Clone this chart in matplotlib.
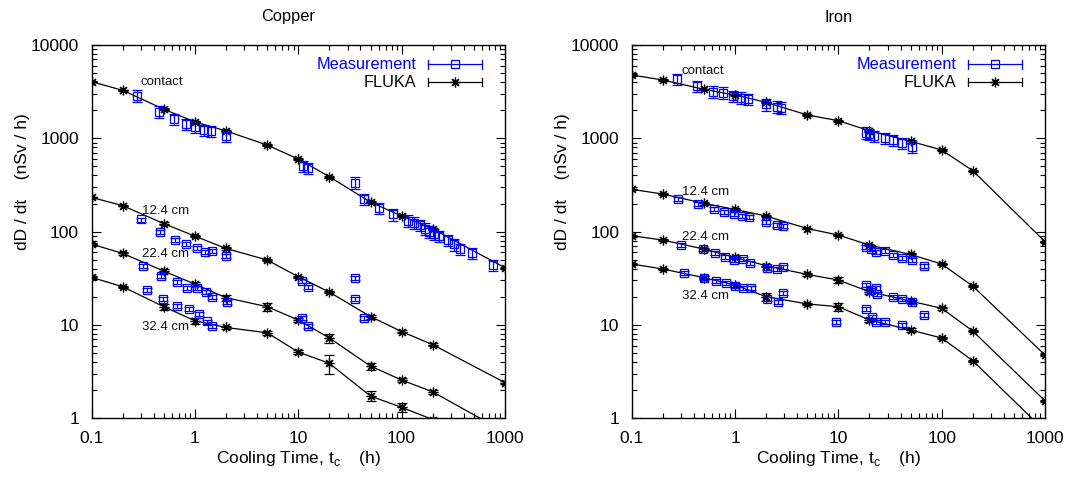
import matplotlib
matplotlib.use("Agg")
import matplotlib.pyplot as plt
from matplotlib.ticker import LogLocator, FixedLocator, FixedFormatter, NullFormatter
import numpy as np

plt.rcParams['font.family'] = ['Liberation Sans', 'DejaVu Sans']
plt.rcParams['mathtext.fontset'] = 'custom'
plt.rcParams['mathtext.rm'] = 'Liberation Sans'

# ---------------- data ----------------
fluka_t = [0.1, 0.2, 0.5, 1, 2, 5, 10, 20, 50, 100, 200, 1000]

cu_fluka_contact = [4050, 3270, 2050, 1500, 1200, 847, 600, 388, 207, 147, 107, 41]
cu_fluka_12 = [233, 190, 122, 89.5, 66, 49.7, 32.9, 22.5, 12.3, 8.5, 6.15, 2.41]
cu_fluka_22 = [73.6, 58.5, 37.8, 27.4, 19.6, 15.7, 11.3, 7.25, 3.63, 2.57, 1.92, 0.71]
cu_fluka_32 = [32.4, 25.7, 15.7, 11.1, 9.4, 8.25, 5.13, 3.88, 1.73, 1.31, 0.97, 0.37]
cu_fluka_err_contact = [0.02, 0.02, 0.03, 0.03, 0.03, 0.02, 0.02, 0.02, 0.02, 0.02, 0.02, 0.02]
cu_fluka_err_12 = [0.02, 0.02, 0.03, 0.03, 0.03, 0.02, 0.03, 0.03, 0.05, 0.03, 0.03, 0.03]
cu_fluka_err_22 = [0.03, 0.03, 0.05, 0.05, 0.07, 0.09, 0.05, 0.11, 0.09, 0.05, 0.05, 0.05]
cu_fluka_err_32 = [0.03, 0.03, 0.07, 0.07, 0.04, 0.05, 0.05, 0.23, 0.12, 0.10, 0.05, 0.05]

cu_meas_contact_t = [0.276, 0.448, 0.626, 0.818, 1.01, 1.23, 1.43, 1.98, 11.0, 12.5,
                     35.4, 43.2, 60.4, 83, 116, 133, 151, 169, 185, 206, 230, 283,
                     321, 367, 476, 762]
cu_meas_contact = [2860, 1930, 1600, 1420, 1330, 1230, 1200, 1060, 505, 477,
                   334, 222, 178, 153, 131, 125, 118, 108, 100, 94, 90, 81,
                   73, 65, 58.5, 43.8]
cu_meas_12_t = [0.298, 0.465, 0.645, 0.818, 1.04, 1.25, 1.45, 2.0, 10.8, 12.5, 35.4, 35.4, 43.2]
cu_meas_12 = [135, 100, 80.8, 73.6, 67.3, 61, 62, 54.7, 29.8, 25.7, 31.8, 18.8, 12.0]
cu_meas_22_t = [0.316, 0.475, 0.665, 0.83, 1.05, 1.29, 1.45, 2.03, 10.8, 12.5]
cu_meas_22 = [42.9, 33.7, 28.6, 24.7, 24.7, 22.7, 19.8, 17.7, 12.0, 9.75]
cu_meas_32_t = [0.347, 0.493, 0.674, 0.875, 1.09, 1.30, 1.48]
cu_meas_32 = [23.7, 18.8, 16.0, 14.8, 13.1, 10.9, 9.8]

fe_fluka_contact = [4770, 4220, 3350, 2910, 2430, 1780, 1545, 1206, 929, 750, 450, 78]
fe_fluka_12 = [284, 253, 201, 173, 147, 108, 91.9, 71.8, 57, 45, 26.1, 4.76]
fe_fluka_22 = [90.4, 81.3, 65, 53, 43.1, 34.8, 30.3, 22.7, 18.0, 15.1, 8.6, 1.54]
fe_fluka_32 = [45, 39.8, 32.1, 26.8, 20.1, 16.8, 15.7, 11.3, 8.83, 7.25, 4.14, 0.73]
fe_fluka_err_contact = [0.02, 0.02, 0.02, 0.02, 0.02, 0.02, 0.02, 0.03, 0.03, 0.02, 0.02, 0.02]
fe_fluka_err_12 = [0.02, 0.02, 0.03, 0.03, 0.03, 0.02, 0.02, 0.03, 0.03, 0.02, 0.02, 0.02]
fe_fluka_err_22 = [0.02, 0.02, 0.04, 0.04, 0.04, 0.03, 0.07, 0.05, 0.04, 0.03, 0.03, 0.03]
fe_fluka_err_32 = [0.02, 0.02, 0.04, 0.04, 0.09, 0.03, 0.09, 0.05, 0.04, 0.03, 0.03, 0.03]

fe_meas_contact_t = [0.273, 0.432, 0.608, 0.771, 0.964, 1.135, 1.33, 2.0, 2.53, 2.79,
                     18.5, 20.0, 22.2, 28.3, 33.6, 41.7, 51.3]
fe_meas_contact = [4285, 3640, 3160, 3080, 2840, 2720, 2620, 2310, 2180, 2130,
                   1148, 1104, 1059, 1000, 960, 884, 814]
fe_meas_12_t = [0.283, 0.441, 0.626, 0.783, 0.978, 1.16, 1.37, 2.0, 2.53, 2.9,
                18.4, 20.6, 23.0, 28.3, 33.6, 41.7, 51.3, 68]
fe_meas_12 = [222, 198, 175, 161, 153, 148, 143, 128, 118, 116,
              68.9, 64.6, 61, 62, 56, 51.8, 49.7, 42.9]
fe_meas_22_t = [0.3, 0.486, 0.64, 0.8, 0.985, 1.19, 1.40, 2.03, 2.57, 2.9,
                18.4, 20.6, 23.0, 23.5, 33.6, 41.7, 51.3, 68]
fe_meas_22 = [71.8, 65, 59.4, 53.8, 49.7, 50.9, 46.4, 41, 39.4, 41.4,
              26.8, 23.7, 24.7, 21.4, 20.1, 18.8, 17.7, 12.9]
fe_meas_32_t = [0.321, 0.5, 0.65, 0.818, 1.0, 1.2, 1.42, 2.03, 2.62, 2.94,
                9.5, 18.4, 21.0, 23.0, 28.3, 41.7]
fe_meas_32 = [35.8, 32.1, 29.8, 27.9, 26.3, 24.7, 24.7, 18.8, 17.7, 21.8,
              10.8, 14.8, 12.3, 10.8, 10.8, 10.0]

meas_rel_err_contact = 0.14
meas_rel_err_depth = 0.05

panel_titles = ["Copper", "Iron"]
depth_labels = ["contact", "12.4 cm", "22.4 cm", "32.4 cm"]
cu_label_pos = [(0.30, 3980), (0.305, 167), (0.305, 57), (0.305, 9.6)]
fe_label_pos = [(0.305, 5300), (0.305, 264), (0.305, 88), (0.305, 20.6)]
x_ticks = [0.1, 1, 10, 100, 1000]
x_ticklabels = ["0.1", "1", "10", "100", "1000"]
y_ticks = [1, 10, 100, 1000, 10000]
y_ticklabels = ["1", "10", "100", "1000", "10000"]

BLUE = '#0000ff'
ASTER = (8, 2, 0)

W, H = 1070, 479
fig = plt.figure(figsize=(W / 100, H / 100), dpi=100)

def px_ax(l, r, t, b):
    return [l / W, 1 - b / H, (r - l) / W, (b - t) / H]

ax_cu = fig.add_axes(px_ax(91.5, 505, 45, 418.3))
ax_fe = fig.add_axes(px_ax(631.7, 1045, 45, 418.3))

panels = [
    (ax_cu,
     [cu_fluka_contact, cu_fluka_12, cu_fluka_22, cu_fluka_32],
     [cu_fluka_err_contact, cu_fluka_err_12, cu_fluka_err_22, cu_fluka_err_32],
     [(cu_meas_contact_t, cu_meas_contact), (cu_meas_12_t, cu_meas_12),
      (cu_meas_22_t, cu_meas_22), (cu_meas_32_t, cu_meas_32)],
     cu_label_pos, 288),
    (ax_fe,
     [fe_fluka_contact, fe_fluka_12, fe_fluka_22, fe_fluka_32],
     [fe_fluka_err_contact, fe_fluka_err_12, fe_fluka_err_22, fe_fluka_err_32],
     [(fe_meas_contact_t, fe_meas_contact), (fe_meas_12_t, fe_meas_12),
      (fe_meas_22_t, fe_meas_22), (fe_meas_32_t, fe_meas_32)],
     fe_label_pos, 839),
]

for i, (ax, fl, fle, meas, lpos, tx) in enumerate(panels):
    ax.set_xscale('log')
    ax.set_yscale('log')
    for k, (vals, errs) in enumerate(zip(fl, fle)):
        v = np.array(vals)
        e = v * np.array(errs)
        ax.errorbar(fluka_t, v, yerr=e, color='black', lw=0.9, elinewidth=0.9,
                    capsize=3.5, capthick=0.9, marker=ASTER, ms=7, mew=0.9,
                    zorder=3)
    for k, (tt, vv) in enumerate(meas):
        v = np.array(vv)
        rel = meas_rel_err_contact if k == 0 else meas_rel_err_depth
        ax.errorbar(tt, v, yerr=v * rel, color=BLUE, ls='none', marker='s',
                    ms=6, mfc='none', mec=BLUE, mew=0.9, elinewidth=0.9,
                    capsize=3.5, capthick=0.9, zorder=4)
    for k, (lx, ly) in enumerate(lpos):
        ax.text(lx, ly, depth_labels[k], fontsize=9.5, ha='left', va='center',
                color='#111111', zorder=5)

    ax.set_xlim(0.1, 1000)
    ax.set_ylim(1, 10000)
    ax.xaxis.set_major_locator(FixedLocator(x_ticks))
    ax.xaxis.set_major_formatter(FixedFormatter(x_ticklabels))
    ax.xaxis.set_minor_locator(LogLocator(base=10, subs=np.arange(2, 10)))
    ax.xaxis.set_minor_formatter(NullFormatter())
    ax.yaxis.set_major_locator(FixedLocator(y_ticks))
    ax.yaxis.set_major_formatter(FixedFormatter(y_ticklabels))
    ax.yaxis.set_minor_locator(LogLocator(base=10, subs=np.arange(2, 10)))
    ax.yaxis.set_minor_formatter(NullFormatter())
    ax.tick_params(which='both', direction='in', top=True, right=True, width=0.8)
    ax.tick_params(which='major', length=6.5, labelsize=12.5)
    ax.tick_params(axis='y', which='major', pad=9)
    ax.tick_params(axis='x', which='major', pad=9)
    ax.tick_params(which='minor', length=3.3)
    for s in ax.spines.values():
        s.set_linewidth(1.0)

    ax.set_xlabel('Cooling Time, t$_\\mathregular{c}$    (h)', fontsize=12.5)
    ax.xaxis.set_label_coords(0.5, -0.082)
    ax.set_ylabel('dD / dt    (nSv / h)', fontsize=12.5)
    ax.yaxis.set_label_coords(-0.149, 0.635)

    fig.text(tx / W, 1 - 17 / H, panel_titles[i], fontsize=11.8,
             ha='center', va='center')

    # legend (gnuplot style)
    for (label, col, mk, yf) in [("Measurement", BLUE, 's', 0.948),
                                 ("FLUKA", 'black', ASTER, 0.900)]:
        ax.text(0.786, yf, label, transform=ax.transAxes, ha='right',
                va='center', fontsize=11.7, color=col)
        ax.plot([0.813, 0.945], [yf, yf], transform=ax.transAxes, color=col,
                lw=0.9, clip_on=False)
        for xe in (0.813, 0.945):
            ax.plot([xe, xe], [yf - 0.011, yf + 0.011], transform=ax.transAxes,
                    color=col, lw=0.9, clip_on=False)
        if mk == 's':
            ax.plot([0.879], [yf], transform=ax.transAxes, marker='s', ms=6,
                    mfc='none', mec=col, mew=0.9)
        else:
            ax.plot([0.879], [yf], transform=ax.transAxes, marker=mk, ms=7,
                    color=col, mew=0.9)

fig.savefig('out.png', dpi=100)
